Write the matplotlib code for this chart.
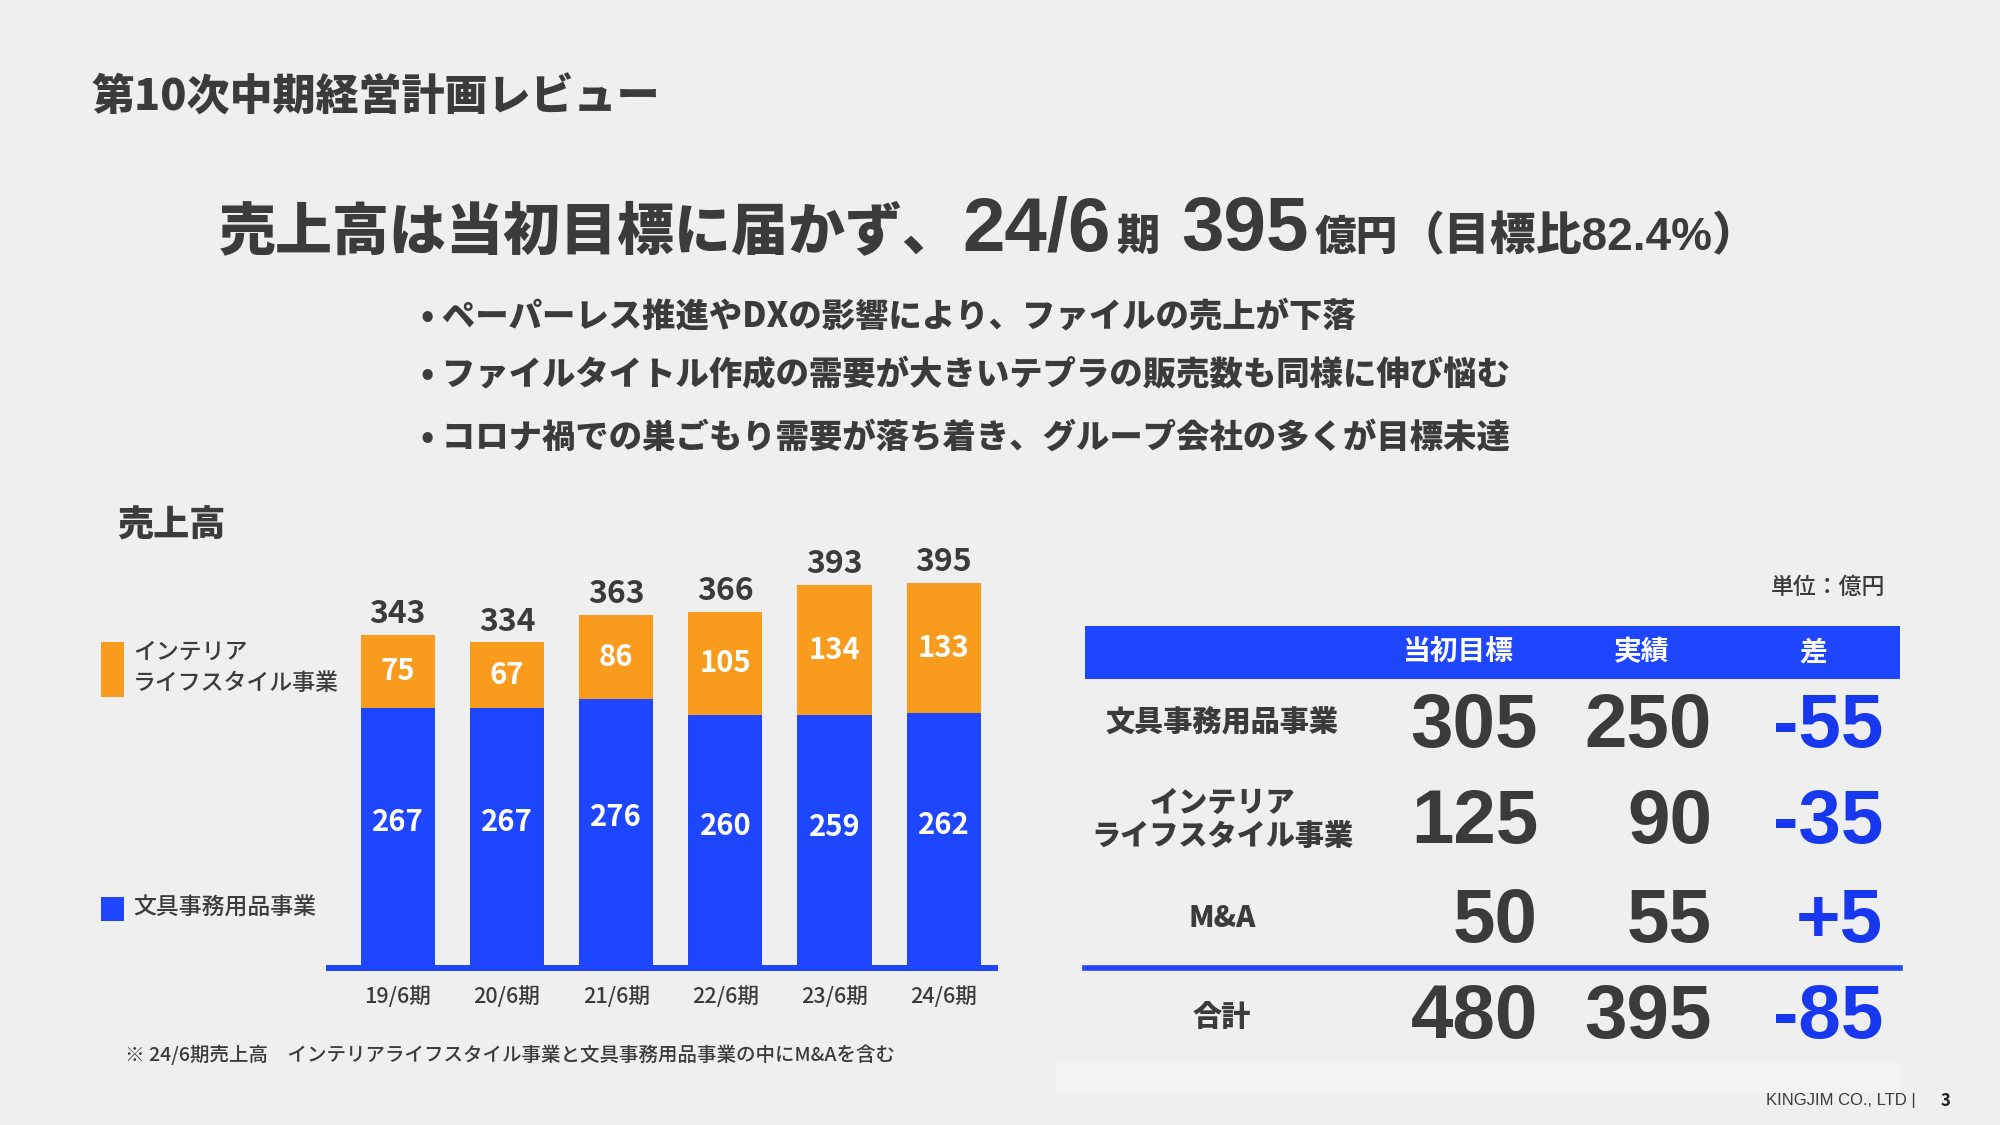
import matplotlib
matplotlib.use('Agg')
import matplotlib.pyplot as plt
from matplotlib.patches import Rectangle
from matplotlib.lines import Line2D

plt.rcParams['font.family'] = ['Noto Sans CJK JP', 'DejaVu Sans']

# ---------------- data ----------------
page_title = "第10次中期経営計画レビュー"
headline_texts = ["売上高は当初目標に届かず、", "24/6", "期", "395", "億円", "（目標比82.4%）"]
bullets = [
    "• ペーパーレス推進やDXの影響により、ファイルの売上が下落",
    "• ファイルタイトル作成の需要が大きいテプラの販売数も同様に伸び悩む",
    "• コロナ禍での巣ごもり需要が落ち着き、グループ会社の多くが目標未達",
]
chart_title = "売上高"
periods = ["19/6期", "20/6期", "21/6期", "22/6期", "23/6期", "24/6期"]
stationery = [267, 267, 276, 260, 259, 262]
interior = [75, 67, 86, 105, 134, 133]
totals = [343, 334, 363, 366, 393, 395]
legend_interior = "インテリア\nライフスタイル事業"
legend_stationery = "文具事務用品事業"
footnote = "※ 24/6期売上高　インテリアライフスタイル事業と文具事務用品事業の中にM&Aを含む"

unit_label = "単位：億円"
table_headers = ["当初目標", "実績", "差"]
table_rows = ["文具事務用品事業", "インテリア\nライフスタイル事業", "M&A", "合計"]
target = [305, 125, 50, 480]
actual = [250, 90, 55, 395]
diff = [-55, -35, 5, -85]
footer_text = "KINGJIM CO., LTD |"
page_no = "3"

# ---------------- style ----------------
W, H = 2000, 1125
BG = '#efefef'
DARK = '#3b3b3b'
BLUE = '#1e46ff'
ORANGE = '#f99b1c'
NUM_BLUE = '#1838f0'
CJK = ['Noto Sans CJK JP', 'DejaVu Sans']
LAT = ['Liberation Sans', 'Noto Sans CJK JP', 'DejaVu Sans']


def fx(x):
    return x / W


def fy(y):
    return 1 - y / H


fig = plt.figure(figsize=(20, 11.25), dpi=100, facecolor=BG)


def rect(x0, y0, x1, y1, color):
    fig.add_artist(Rectangle((fx(x0), fy(y1)), (x1 - x0) / W, (y1 - y0) / H,
                             transform=fig.transFigure, facecolor=color,
                             edgecolor='none'))


# page title
fig.text(fx(92), fy(98), page_title, fontsize=31, weight='heavy', color=DARK,
         ha='left', va='center')

# headline with mixed sizes, chained left to right
renderer = fig.canvas.get_renderer()
sizes = [41, 55, 31, 55, 30, 33]
fams = [CJK, LAT, CJK, LAT, CJK, LAT]
gaps = [2, 6, 22, 6, 0, 0]
x = 219
for s, fs, fam, g in zip(headline_texts, sizes, fams, gaps):
    t = fig.text(fx(x), fy(250), s, fontsize=fs, weight='heavy', color=DARK,
                 ha='left', va='baseline', family=fam)
    bb = t.get_window_extent(renderer)
    x += bb.width + g

# bullets
for yy, b in zip([317, 375, 437], bullets):
    fig.text(fx(421), fy(yy), b, fontsize=24, weight='heavy', color=DARK,
             ha='left', va='center')

# chart subtitle
fig.text(fx(117), fy(526), chart_title, fontsize=26, weight='heavy',
         color=DARK, ha='left', va='center')

# ---------------- bar chart ----------------
ax = fig.add_axes([fx(329), fy(968), (995 - 329) / W, 450 * 0.975 / H])
ax.set_facecolor('none')
xs = list(range(len(periods)))
ax.bar(xs, stationery, width=0.68, color=BLUE, zorder=2)
ax.bar(xs, interior, bottom=stationery, width=0.68, color=ORANGE, zorder=2)
ax.axhline(0, color=BLUE, lw=4.3, zorder=3, clip_on=False)
ax.set_xlim(-0.63, 5.47)
ax.set_ylim(0, 450)
ax.set_xticks(xs, periods)
ax.set_yticks([])
ax.tick_params(axis='x', length=0, pad=13, labelsize=15.5, labelcolor=DARK)
for lab in ax.get_xticklabels():
    lab.set_fontweight('medium')
for sp in ax.spines.values():
    sp.set_visible(False)

for i in xs:
    top = stationery[i] + interior[i]
    ax.annotate(str(totals[i]), xy=(i, top), xytext=(0, 15),
                textcoords='offset points', ha='center', va='center',
                fontsize=23, weight='bold', color=DARK, annotation_clip=False)
    ax.text(i, stationery[i] + interior[i] / 2, str(interior[i]), ha='center',
            va='center', fontsize=21, weight='bold', color='white', zorder=4)
    ax.text(i, stationery[i] * 0.56, str(stationery[i]), ha='center',
            va='center', fontsize=21, weight='bold', color='white', zorder=4)

# legend
rect(101, 642, 124, 697, ORANGE)
fig.text(fx(133), fy(668), legend_interior, fontsize=16.5, color=DARK,
         ha='left', va='center', linespacing=1.45, weight='medium')
rect(101, 897, 124, 921, BLUE)
fig.text(fx(133), fy(908), legend_stationery, fontsize=16.5, color=DARK,
         ha='left', va='center', weight='medium')

# footnote
fig.text(fx(125), fy(1055), footnote, fontsize=14, color=DARK, ha='left',
         va='center', weight='medium')

# ---------------- table ----------------
fig.text(fx(1885), fy(587), unit_label, fontsize=16.5, color=DARK, ha='right',
         va='center', weight='medium')
rect(1085, 626, 1900, 679, BLUE)
for xc, h in zip([1458, 1642, 1813], table_headers):
    fig.text(fx(xc), fy(652), h, fontsize=20, weight='bold', color='white',
             ha='center', va='center')

label_y = [723, 820, 918, 1017]
num_base = [747, 843, 942, 1038]
for yy, yb, lab, tg, ac, df in zip(label_y, num_base, table_rows, target,
                                   actual, diff):
    fig.text(fx(1222), fy(yy), lab, fontsize=21, weight='heavy', color=DARK,
             ha='center', va='center', multialignment='center',
             linespacing=1.2)
    fig.text(fx(1538), fy(yb), str(tg), fontsize=55, weight='bold',
             color=DARK, ha='right', va='baseline', family=LAT)
    fig.text(fx(1712), fy(yb), str(ac), fontsize=55, weight='bold',
             color=DARK, ha='right', va='baseline', family=LAT)
    fig.text(fx(1883), fy(yb), f"{df:+d}", fontsize=55, weight='bold',
             color=NUM_BLUE, ha='right', va='baseline', family=LAT)

fig.add_artist(Line2D([fx(1085), fx(1900)], [fy(968), fy(968)], lw=4,
                      color=BLUE, transform=fig.transFigure))
rect(1056, 1062, 1900, 1093, '#f3f3f3')

# footer
fig.text(fx(1916), fy(1101), footer_text, fontsize=12,
         family=['Liberation Sans Narrow', 'Liberation Sans', 'DejaVu Sans'],
         color=DARK, ha='right', va='center')
fig.text(fx(1945), fy(1101), page_no, fontsize=12, color='#222222',
         ha='center', va='center', weight='bold')

fig.savefig('out.png', dpi=100, facecolor=BG)
